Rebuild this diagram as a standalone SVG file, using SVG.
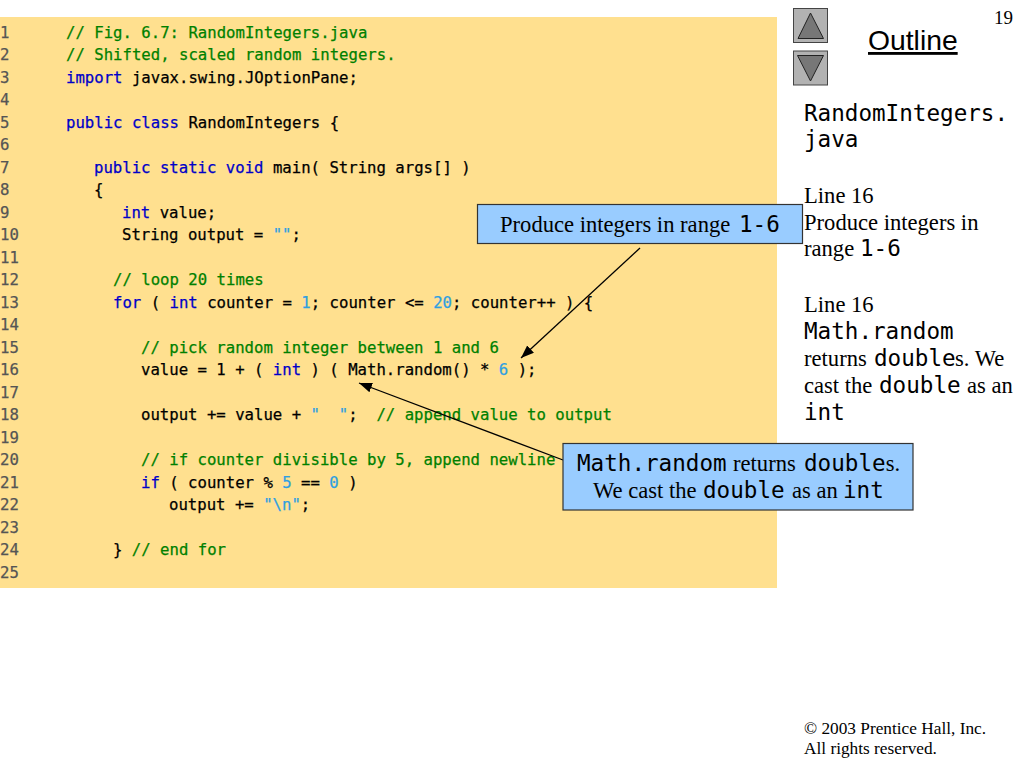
<svg xmlns="http://www.w3.org/2000/svg" width="1024" height="768" viewBox="0 0 1024 768">
<style>
text{white-space:pre}
.c{font-family:"DejaVu Sans Mono","Liberation Mono",monospace;font-size:15.65px;fill:#000;stroke:#000;stroke-width:.25px}
.k{fill:#0000c8;stroke:#0000c8}.g{fill:#008000;stroke:#008000}.n{fill:#2f9fe0;stroke:#2f9fe0}
.ln{font-family:"DejaVu Sans Mono","Liberation Mono",monospace;font-size:15.65px;fill:#555;stroke:#555;stroke-width:.25px}
.t{font-family:"Liberation Serif",serif;font-size:22.6px;fill:#000}
.m{font-family:"DejaVu Sans Mono","Liberation Mono",monospace;font-size:22.6px}
.box{fill:#99ccff;stroke:#333;stroke-width:1.2}
.btn{fill:#b2b2b2;stroke:#444;stroke-width:1}
.tri{fill:#777;stroke:#222;stroke-width:1}
.a{stroke:#000;stroke-width:1.3;fill:none;marker-end:url(#h)}
</style>
<defs><marker id="h" markerUnits="userSpaceOnUse" markerWidth="14" markerHeight="12" refX="13" refY="5" orient="auto"><path d="M0 0L13 5L0 10z" fill="#000"/></marker></defs>
<rect x="0" y="17" width="777" height="571" fill="#ffe08f"/>
<g id="lines">
<text class="ln" x="0" y="37.5">1</text><text class="ln" x="0" y="60">2</text><text class="ln" x="0" y="82.500">3</text><text class="ln" x="0" y="105">4</text><text class="ln" x="0" y="127.500">5</text><text class="ln" x="0" y="150">6</text><text class="ln" x="0" y="172.500">7</text><text class="ln" x="0" y="195">8</text><text class="ln" x="0" y="217.500">9</text><text class="ln" x="0" y="240">10</text><text class="ln" x="0" y="262.500">11</text><text class="ln" x="0" y="285">12</text><text class="ln" x="0" y="307.500">13</text><text class="ln" x="0" y="330">14</text><text class="ln" x="0" y="352.500">15</text><text class="ln" x="0" y="375">16</text><text class="ln" x="0" y="397.500">17</text><text class="ln" x="0" y="420">18</text><text class="ln" x="0" y="442.500">19</text><text class="ln" x="0" y="465">20</text><text class="ln" x="0" y="487.500">21</text><text class="ln" x="0" y="510">22</text><text class="ln" x="0" y="532.500">23</text><text class="ln" x="0" y="555">24</text><text class="ln" x="0" y="577.500">25</text>
</g>
<g id="code">
<text class="c g" x="66" y="37.5">// Fig. 6.7: RandomIntegers.java</text>
<text class="c g" x="66" y="60">// Shifted, scaled random integers.</text>
<text class="c" x="66" y="82.500"><tspan class="k">import</tspan> javax.swing.JOptionPane;</text>
<text class="c" x="66" y="127.500"><tspan class="k">public class</tspan> RandomIntegers {</text>
<text class="c" x="94" y="172.500"><tspan class="k">public static void</tspan> main( String args[] )</text>
<text class="c" x="94" y="195">{</text>
<text class="c" x="122" y="217.500"><tspan class="k">int</tspan> value;</text>
<text class="c" x="122" y="240">String output = <tspan class="n">""</tspan>;</text>
<text class="c g" x="113" y="285">// loop 20 times</text>
<text class="c" x="113" y="307.500"><tspan class="k">for</tspan> ( <tspan class="k">int</tspan> counter = <tspan class="n">1</tspan>; counter &lt;= <tspan class="n">20</tspan>; counter++ ) {</text>
<text class="c g" x="141" y="352.500">// pick random integer between 1 and 6</text>
<text class="c" x="141" y="375">value = 1 + ( <tspan class="k">int</tspan> ) ( Math.random() * <tspan class="n">6</tspan> );</text>
<text class="c" x="141" y="420">output += value + <tspan class="n">"  "</tspan>;  <tspan class="g">// append value to output</tspan></text>
<text class="c g" x="141" y="465">// if counter divisible by 5, append newline</text>
<text class="c" x="141" y="487.500"><tspan class="k">if</tspan> ( counter % <tspan class="n">5</tspan> == <tspan class="n">0</tspan> )</text>
<text class="c" x="169" y="510">output += <tspan class="n">"\n"</tspan>;</text>
<text class="c" x="113" y="555">} <tspan class="g">// end for</tspan></text>
</g>
<g id="connectors">
<line class="a" x1="640" y1="248" x2="521" y2="358"/>
<line class="a" x1="563" y1="460" x2="359" y2="383"/>
</g>
<g id="callout1">
<rect class="box" x="477.500" y="204.500" width="325" height="39"/>
<text class="t" x="500" y="232">Produce integers in range <tspan class="m" x="739">1-6</tspan></text>
</g>
<g id="callout2">
<rect class="box" x="563" y="443.500" width="350" height="66.500"/>
<text class="t" x="577" y="471"><tspan class="m">Math.random</tspan> <tspan x="733">returns</tspan> <tspan class="m" x="804">double</tspan>s.</text>
<text class="t" x="593" y="498">We cast the <tspan class="m" x="703">double</tspan> <tspan x="792">as an</tspan> <tspan class="m" x="843">int</tspan></text>
</g>
<g id="btn-up"><rect class="btn" x="793.500" y="8.500" width="34" height="34"/><path class="tri" d="M810.500 13L823.500 38.500H798z"/></g>
<g id="btn-down"><rect class="btn" x="793.500" y="51" width="34" height="34"/><path class="tri" d="M797.500 55.500H823.500L810.500 81z"/></g>
<g id="panel">
<text x="868" y="50" style="font-family:'Liberation Sans',sans-serif;font-size:28.3px;text-decoration:underline">Outline</text>
<text class="t" x="994" y="24" style="font-size:19px">19</text>
<text class="m" x="804" y="121">RandomIntegers.</text>
<text class="m" x="804" y="147">java</text>
<text class="t" x="804" y="203">Line 16</text>
<text class="t" x="804" y="230">Produce integers in</text>
<text class="t" x="804" y="256">range <tspan class="m" x="860">1-6</tspan></text>
<text class="t" x="804" y="312">Line 16</text>
<text class="m" x="804" y="339">Math.random</text>
<text class="t" x="804" y="366">returns <tspan class="m" x="874">double</tspan><tspan x="955">s. We</tspan></text>
<text class="t" x="804" y="393">cast the <tspan class="m" x="879">double</tspan> <tspan x="967">as an</tspan></text>
<text class="m" x="804" y="420">int</text>
<text class="t" x="804" y="734" style="font-size:17.3px">© 2003 Prentice Hall, Inc.</text>
<text class="t" x="804" y="754" style="font-size:17.3px">All rights reserved.</text>
</g>
</svg>
